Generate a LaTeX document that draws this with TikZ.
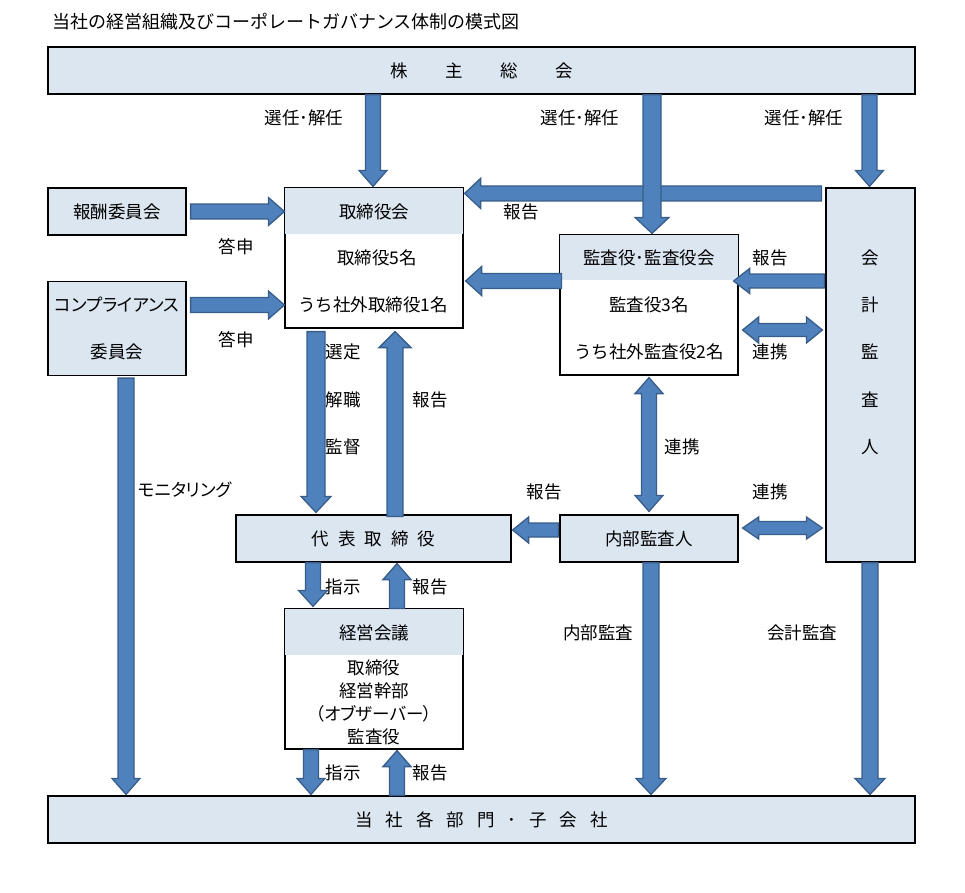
\documentclass[tikz,border=0pt]{standalone}
\usepackage{fontspec}
\setmainfont{Noto Sans CJK JP}
\newfontfamily\jpp[RawFeature=+palt]{Noto Sans CJK JP}
\usetikzlibrary{calc}
\definecolor{boxfill}{HTML}{DCE6F1}
\definecolor{arrfill}{HTML}{4F81BD}
\definecolor{arrline}{HTML}{385D8A}
\tikzset{
  box/.style={draw=black, line width=1.2pt, fill=boxfill, inner sep=0pt, font=\fontsize{17.5}{20}\selectfont},
  wbox/.style={draw=black, line width=1.2pt, fill=white, inner sep=0pt},
  lbl/.style={font=\fontsize{17.5}{20}\selectfont, inner sep=0pt},
  barr/.style={fill=arrfill, draw=arrline, line width=1.3pt, line join=miter},
}
% single-headed block arrow: start, end, half shaft, half head
\newcommand\blkarrow[4]{%
  \coordinate (ba-s) at #1; \coordinate (ba-e) at #2;
  \coordinate (ba-n) at ($(ba-e)!16pt!(ba-s)$);
  \draw[barr] ($(ba-s)!#3!90:(ba-e)$) -- ($(ba-n)!#3!90:(ba-e)$) -- ($(ba-n)!#4!90:(ba-e)$)
    -- (ba-e) -- ($(ba-n)!#4!-90:(ba-e)$) -- ($(ba-n)!#3!-90:(ba-e)$) -- ($(ba-s)!#3!-90:(ba-e)$) -- cycle;}
% double-headed block arrow
\newcommand\dblarrow[4]{%
  \coordinate (ba-s) at #1; \coordinate (ba-e) at #2;
  \coordinate (ba-n) at ($(ba-e)!16pt!(ba-s)$);
  \coordinate (ba-m) at ($(ba-s)!16pt!(ba-e)$);
  \draw[barr] ($(ba-m)!#3!90:(ba-e)$) -- ($(ba-n)!#3!90:(ba-e)$) -- ($(ba-n)!#4!90:(ba-e)$)
    -- (ba-e) -- ($(ba-n)!#4!-90:(ba-e)$) -- ($(ba-n)!#3!-90:(ba-e)$) -- ($(ba-m)!#3!-90:(ba-e)$)
    -- ($(ba-m)!#4!-90:(ba-e)$) -- (ba-s) -- ($(ba-m)!#4!90:(ba-e)$) -- cycle;}
\begin{document}
\begin{tikzpicture}[x=1pt,y=-1pt]
\useasboundingbox (0,0) rectangle (965,892);
\node[lbl, anchor=west] (title) at (52,22) {\fontsize{18}{20}\selectfont 当社の経営組織及びコーポレートガバナンス体制の模式図};

% simple boxes
\node[box, minimum width=867pt, minimum height=47pt] (kabu) at (481.5,70.5) {株\hspace{37.5pt}主\hspace{37.5pt}総\hspace{37.5pt}会};
\node[box, minimum width=138pt, minimum height=47pt] (hoshu) at (117,211.5) {報酬委員会};
\node[box, minimum width=138pt, minimum height=94pt] (comp) at (117,328.5) {};
\node[lbl] (comp1) at (117,305) {\jpp コンプライアンス};
\node[lbl] (comp2) at (117,352) {委員会};
\node[box, minimum width=89pt, minimum height=374pt] (kaikei) at (870.5,375) {};
\node[lbl] (kk1) at (870.5,258) {会};
\node[lbl] (kk2) at (870.5,305) {計};
\node[lbl] (kk3) at (870.5,352) {監};
\node[lbl] (kk4) at (870.5,400) {査};
\node[lbl] (kk5) at (870.5,447) {人};
\node[box, minimum width=275pt, minimum height=47pt] (dh) at (373.5,538.5) {代\hspace{9pt}表\hspace{9pt}取\hspace{9pt}締\hspace{9pt}役};
\node[box, minimum width=178pt, minimum height=47pt] (naibu) at (649,538.5) {内部監査人};
\node[box, minimum width=867pt, minimum height=47pt] (bumon) at (481.5,819.5) {当\hspace{13pt}社\hspace{13pt}各\hspace{13pt}部\hspace{13pt}門\hspace{13pt}･\hspace{13pt}子\hspace{13pt}会\hspace{13pt}社};

% boxes with header band
\node[wbox, minimum width=178pt, minimum height=140pt] (tb) at (374,258) {};
\fill[boxfill] ([shift={(0.6pt,-0.6pt)}]tb.north west) rectangle ([shift={(-0.6pt,-47pt)}]tb.north east);
\draw[line width=1.2pt] (tb.north west) rectangle (tb.south east);
\node[lbl] (tb1) at (374,212) {取締役会};
\node[lbl] (tb2) at (377,258) {取締役5名};
\node[lbl] (tb3) at (373,305) {うち社外取締役1名};

\node[wbox, minimum width=178pt, minimum height=140pt] (kansa) at (649,305) {};
\fill[boxfill] ([shift={(0.6pt,-0.6pt)}]kansa.north west) rectangle ([shift={(-0.6pt,-46pt)}]kansa.north east);
\draw[line width=1.2pt] (kansa.north west) rectangle (kansa.south east);
\node[lbl] (ks1) at (649,258) {監査役･監査役会};
\node[lbl] (ks2) at (649,305) {監査役3名};
\node[lbl] (ks3) at (649,352) {うち社外監査役2名};

\node[wbox, minimum width=178pt, minimum height=140pt] (keiei) at (374,679) {};
\fill[boxfill] ([shift={(0.6pt,-0.6pt)}]keiei.north west) rectangle ([shift={(-0.6pt,-47pt)}]keiei.north east);
\draw[line width=1.2pt] (keiei.north west) rectangle (keiei.south east);
\node[lbl] (kg1) at (374,633) {経営会議};
\node[lbl] (kg2) at (374,668) {取締役};
\node[lbl] (kg3) at (374,691) {経営幹部};
\node[lbl] (kg4) at (374,714) {\jpp （オブザーバー）};
\node[lbl] (kg5) at (374,737) {監査役};

% labels
\node[lbl] (l1) at (304,118) {選任･解任};
\node[lbl] (l2) at (580,118) {選任･解任};
\node[lbl] (l3) at (804,118) {選任･解任};
\node[lbl] (l4) at (521,212) {報告};
\node[lbl] (l5) at (236,247) {答申};
\node[lbl] (l6) at (236,340) {答申};
\node[lbl] (l7) at (770,258) {報告};
\node[lbl] (l8) at (770,352) {連携};
\node[lbl] (l9) at (343,352) {選定};
\node[lbl] (l10) at (343,400) {解職};
\node[lbl] (l11) at (343,447) {監督};
\node[lbl] (l12) at (430,400) {報告};
\node[lbl] (l13) at (682,447) {連携};
\node[lbl] (l14) at (544,492) {報告};
\node[lbl] (l15) at (770,492) {連携};
\node[lbl] (l16) at (185,490) {\jpp モニタリング};
\node[lbl] (l17) at (343,587) {指示};
\node[lbl] (l18) at (430,587) {報告};
\node[lbl] (l19) at (598,633) {内部監査};
\node[lbl] (l20) at (802,633) {会計監査};
\node[lbl] (l21) at (343,773) {指示};
\node[lbl] (l22) at (430,773) {報告};

% arrows
\blkarrow{([xshift=-1pt]kabu.south -| tb.north)}{([shift={(-1pt,1pt)}]tb.north)}{7.5pt}{14pt}
\blkarrow{([xshift=-1pt]kabu.south -| kaikei.north)}{([shift={(-1pt,1pt)}]kaikei.north)}{7.5pt}{14pt}
\blkarrow{([shift={(-4pt,-6pt)}]kaikei.north west)}{([shift={(1pt,-6pt)}]tb.north east)}{7.5pt}{15pt}
\blkarrow{([xshift=3pt]kabu.south -| kansa.north)}{([shift={(3pt,1pt)}]kansa.north)}{9pt}{17pt}
\blkarrow{([xshift=4pt]hoshu.east)}{(hoshu.east -| tb.west)}{7.5pt}{14pt}
\coordinate (c6) at ([shift={(4pt,23.5pt)}]comp.east);
\blkarrow{(c6)}{(c6 -| tb.west)}{7.5pt}{14pt}
\coordinate (c7) at ([shift={(2pt,24pt)}]kansa.west);
\blkarrow{(c7)}{([xshift=2pt]c7 -| tb.east)}{7.5pt}{14.5pt}
\coordinate (c8) at ([shift={(-1pt,24pt)}]kansa.east);
\blkarrow{([xshift=-1pt]c8 -| kaikei.west)}{([xshift=-4pt]c8)}{7pt}{12.5pt}
\coordinate (c9) at ([shift={(4pt,-25pt)}]kansa.east);
\dblarrow{(c9)}{([xshift=-3pt]c9 -| kaikei.west)}{6.5pt}{13pt}
\blkarrow{([shift={(-58pt,-3pt)}]tb.south)}{([shift={(-57.5pt,2pt)}]dh.north)}{9pt}{15pt}
\blkarrow{([shift={(21.5pt,-2pt)}]dh.north)}{([shift={(21pt,-3pt)}]tb.south)}{8pt}{16pt}
\dblarrow{([yshift=-2pt]kansa.south)}{([yshift=3pt]naibu.north)}{7.5pt}{14pt}
\coordinate (c13) at ([shift={(-1pt,8.5pt)}]naibu.west);
\blkarrow{(c13)}{([xshift=1pt]c13 -| dh.east)}{7pt}{13pt}
\coordinate (c14) at ([shift={(4pt,10.5pt)}]naibu.east);
\dblarrow{(c14)}{([xshift=-3pt]c14 -| kaikei.west)}{6.5pt}{11pt}
\blkarrow{([shift={(9pt,-2pt)}]comp.south)}{([shift={(9pt,1pt)}]comp.south |- bumon.north)}{8pt}{14pt}
\blkarrow{([xshift=-60.5pt]dh.south)}{([shift={(-61pt,2pt)}]keiei.north)}{7.5pt}{14.5pt}
\blkarrow{([xshift=23pt]keiei.north)}{([shift={(23.5pt,-1pt)}]dh.south)}{7.5pt}{14pt}
\blkarrow{([xshift=-63pt]keiei.south)}{([xshift=-63pt,yshift=1pt]keiei.south |- bumon.north)}{7.5pt}{14pt}
\blkarrow{([xshift=23pt]keiei.south |- bumon.north)}{([shift={(23pt,-1pt)}]keiei.south)}{7.5pt}{14pt}
\blkarrow{([xshift=2pt]naibu.south)}{([shift={(2pt,1pt)}]naibu.south |- bumon.north)}{8pt}{15pt}
\blkarrow{([xshift=-0.5pt]kaikei.south)}{([shift={(-0.5pt,1pt)}]kaikei.south |- bumon.north)}{8pt}{15pt}
\end{tikzpicture}
\end{document}
